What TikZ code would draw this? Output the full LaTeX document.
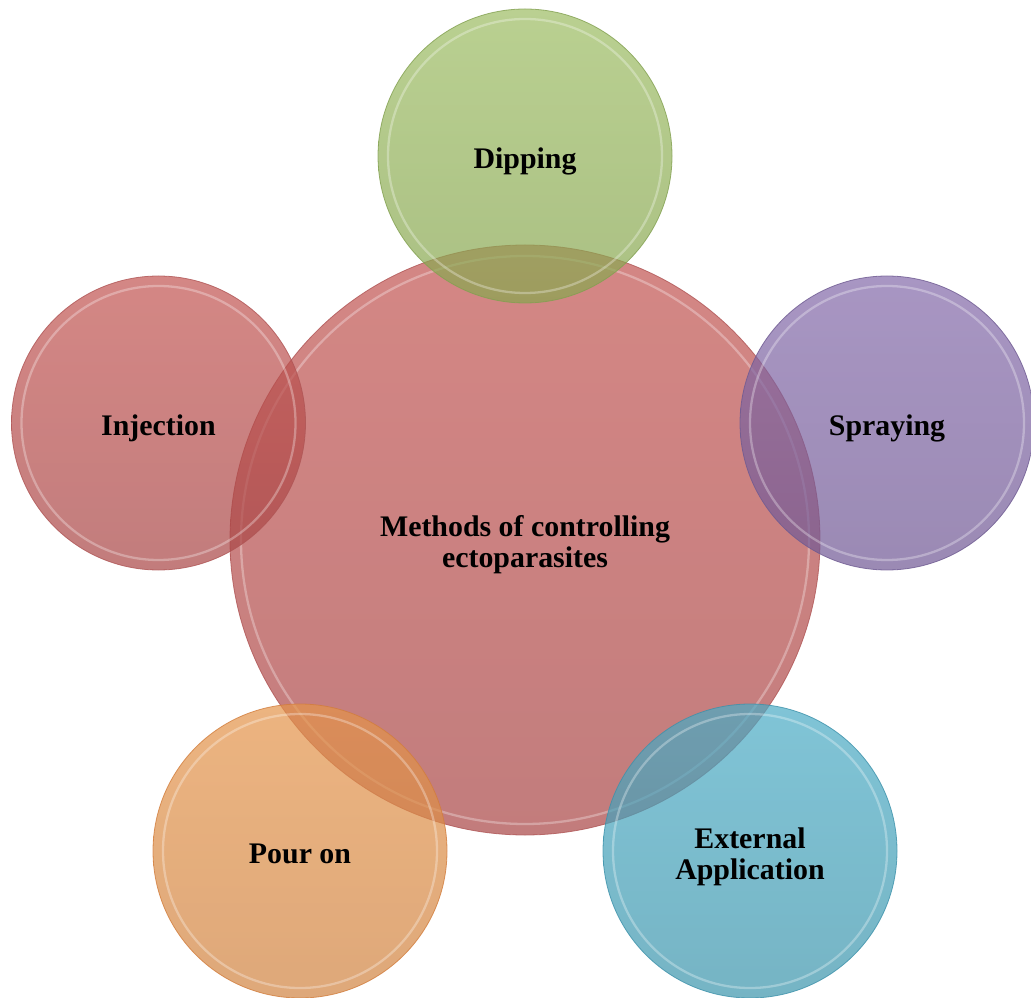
\documentclass[tikz,border=0pt]{standalone}
\usepackage{fontspec}
\setmainfont{Liberation Serif}

\definecolor{verdeA}{RGB}{156,188,98}
\definecolor{verdeB}{RGB}{134,165,78}
\definecolor{verdeL}{RGB}{130,160,80}
\definecolor{vermA}{RGB}{194,84,81}
\definecolor{vermB}{RGB}{168,69,69}
\definecolor{vermL}{RGB}{175,85,85}
\definecolor{roxoA}{RGB}{131,105,169}
\definecolor{roxoB}{RGB}{112,88,148}
\definecolor{roxoL}{RGB}{110,90,145}
\definecolor{azulA}{RGB}{74,171,197}
\definecolor{azulB}{RGB}{59,148,171}
\definecolor{azulL}{RGB}{60,145,170}
\definecolor{laranjaA}{RGB}{228,148,74}
\definecolor{laranjaB}{RGB}{208,131,65}
\definecolor{laranjaL}{RGB}{210,125,60}

% apoio vertical do texto
\newcommand{\apoio}{\rule[-4pt]{0pt}{22pt}}

\begin{document}
\begin{tikzpicture}[
	bola/.style={circle, inner sep=0pt, fill opacity=0.7, draw opacity=0.8,
		text opacity=1, line width=0.45pt, align=center,
		font=\bfseries\fontsize{17}{17.5}\selectfont},
	brilho/.style={white, opacity=0.3, line width=1.3pt}
	]
	\useasboundingbox (0,0) rectangle (20.62,19.94);
	
	% Círculo central
	\node[bola, minimum size=11.8cm, draw=vermL, top color=vermA, bottom color=vermB]
	(metodos) at (10.5,9.14) {\rule{0pt}{17pt}Methods of controlling\\ectoparasites};
	\draw[brilho] (metodos.center) circle (5.68);
	
	% Dipping (em cima)
	\node[bola, minimum size=5.88cm, draw=verdeL, top color=verdeA, bottom color=verdeB]
	(dipping) at (10.5,16.82) {\apoio Dipping};
	\draw[brilho] (dipping.center) circle (2.74);
	
	% Injection (esquerda)
	\node[bola, minimum size=5.88cm, draw=vermL, top color=vermA, bottom color=vermB]
	(injection) at (3.17,11.48) {\apoio Injection};
	\draw[brilho] (injection.center) circle (2.74);
	
	% Spraying (direita)
	\node[bola, minimum size=5.88cm, draw=roxoL, top color=roxoA, bottom color=roxoB]
	(spraying) at (17.74,11.48) {\apoio Spraying};
	\draw[brilho] (spraying.center) circle (2.74);
	
	% Pour on (embaixo, esquerda)
	\node[bola, minimum size=5.88cm, draw=laranjaL, top color=laranjaA, bottom color=laranjaB]
	(pouron) at (6.0,2.92) {\apoio Pour on};
	\draw[brilho] (pouron.center) circle (2.74);
	
	% External Application (embaixo, direita)
	\node[bola, minimum size=5.88cm, draw=azulL, top color=azulA, bottom color=azulB]
	(external) at (15.0,2.92) {\rule{0pt}{18pt}External\\Application};
	\draw[brilho] (external.center) circle (2.74);
	
\end{tikzpicture}
\end{document}
